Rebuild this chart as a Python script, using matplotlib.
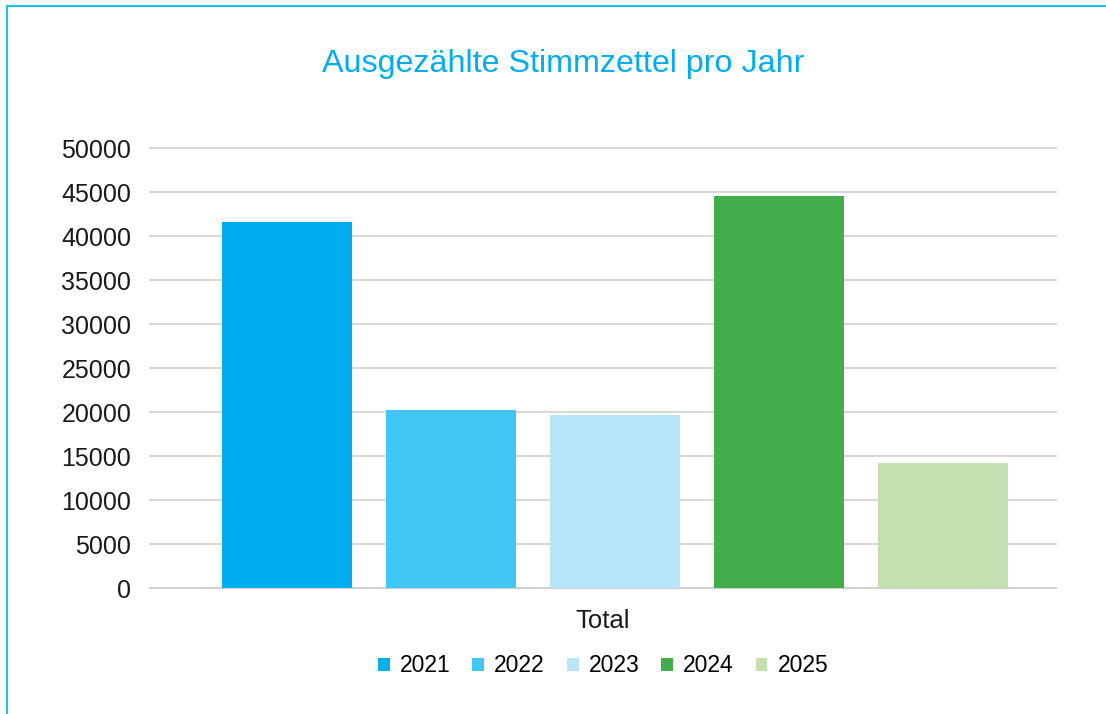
import matplotlib.pyplot as plt
from matplotlib.patches import Rectangle

# data
years = ["2021", "2022", "2023", "2024", "2025"]
values = [41600, 20300, 19650, 44650, 14200]
colors = ["#00AEEF", "#41C7F4", "#B8E4F8", "#41AE4B", "#C4E0AF"]
category = "Total"
yticks = [0, 5000, 10000, 15000, 20000, 25000, 30000, 35000, 40000, 45000, 50000]

plt.rcParams['font.family'] = ['Liberation Sans', 'DejaVu Sans']

fig = plt.figure(figsize=(11.06, 7.14), dpi=100)

# chart border (cut at right/bottom like the reference)
fig.patches.append(Rectangle((7 / 1106, -0.05), 1.2, (714 - 6) / 714 + 0.05,
                             transform=fig.transFigure, fill=False,
                             edgecolor="#1FBEF0", linewidth=1.5))

ax = fig.add_axes([150 / 1106, (714 - 588) / 714, 906 / 1106, (588 - 148.5) / 714])

step = 164 / 906
width = 130 / 906
for i, (yr, val, col) in enumerate(zip(years, values, colors)):
    ax.bar((i - 2) * step, val, width=width, color=col, label=yr, zorder=3)

ax.set_xlim(-465 / 906, 441 / 906)
ax.set_ylim(0, 50000)
ax.set_yticks(yticks)
ax.set_yticklabels([str(t) for t in yticks], fontsize=18, color="#1a1a1a")
ax.set_xticks([])
ax.set_xlabel(category, fontsize=18.5, color="#1a1a1a", labelpad=15)

ax.grid(axis="y", color="#D9D9D9", linewidth=1.5, zorder=0)
for gl in ax.yaxis.get_gridlines():
    gl.set_clip_on(False)
for s in ["top", "right", "left"]:
    ax.spines[s].set_visible(False)
ax.spines["bottom"].set_color("#D0D0D0")
ax.spines["bottom"].set_linewidth(1.5)
ax.tick_params(axis="y", length=0, pad=13.5)

fig.text(563 / 1106, 1 - 64 / 714, "Ausgezählte Stimmzettel pro Jahr",
         ha="center", va="center", fontsize=23.2, color="#00AEEF")

fig.legend(loc="center", bbox_to_anchor=(603 / 1106, 1 - 666 / 714), ncol=5,
           frameon=False, fontsize=16.5, handlelength=0.52, handleheight=0.52,
           handletextpad=0.44, columnspacing=0.95)

fig.savefig("out.png", dpi=100)
